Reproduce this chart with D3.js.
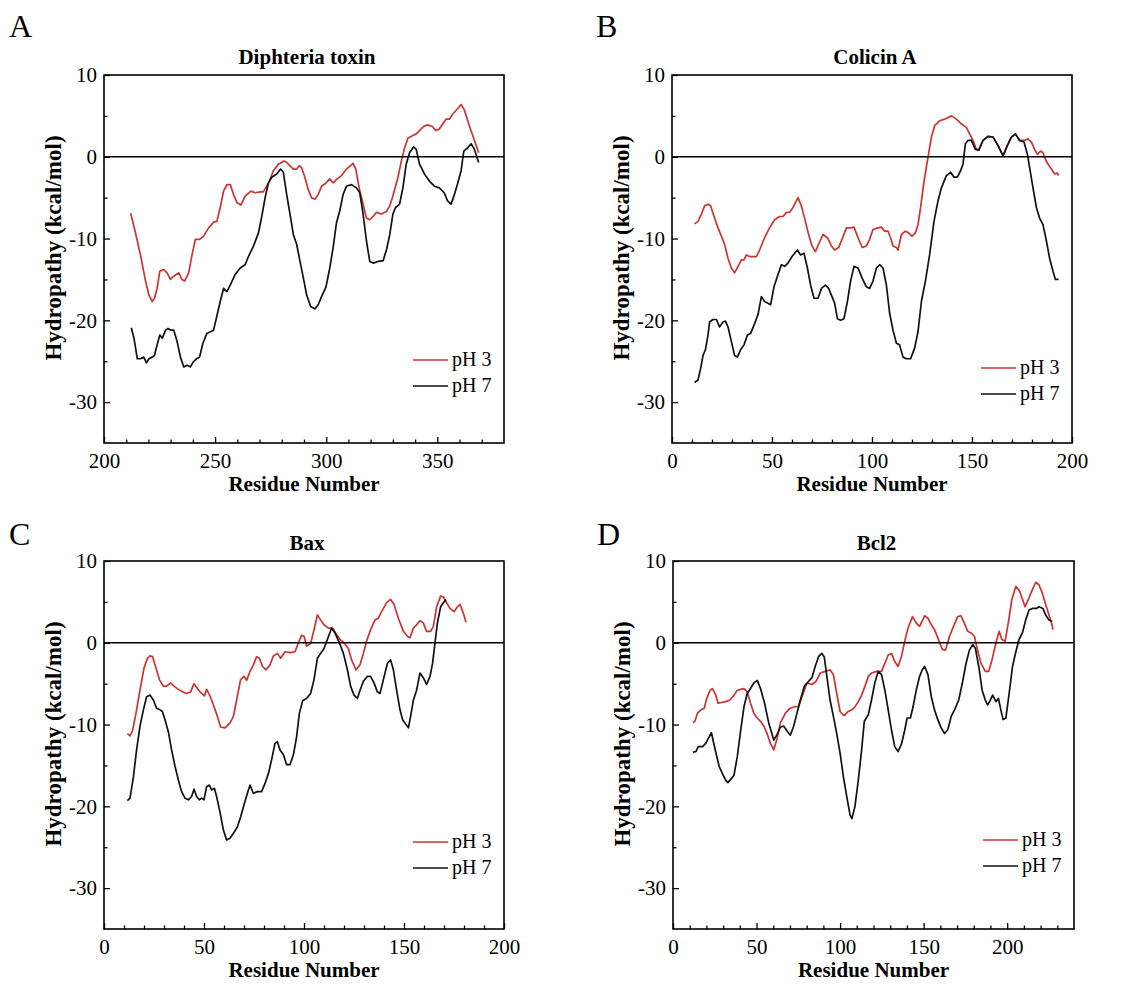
<!DOCTYPE html>
<html>
<head>
<meta charset="utf-8">
<script src="https://cdn.jsdelivr.net/npm/d3@7"></script>
<style>
body { margin: 0; background: #fff; }
svg { display: block; }
text { font-family: "Liberation Serif", "Times New Roman", serif; fill: #000; }
</style>
</head>
<body>
<div id="chart"></div>
<script>
// [residue, hydropathy kcal/mol]
const dtPH3 = [[212,-6.9],[214,-9.1],[216.4,-12.0],[218.7,-15.2],[220.2,-16.9],[221.7,-17.7],[222.7,-17.3],[223.9,-16.1],[225.1,-14.0],[226.9,-13.8],[228.4,-14.2],[229.9,-15.0],[231.4,-14.6],[233.6,-14.2],[235.1,-15.0],[236.3,-15.2],[238.1,-14.2],[239.6,-12.0],[241.1,-10.1],[243,-10.1],[244.8,-9.7],[247.1,-8.7],[249.3,-8.0],[250.8,-7.9],[252.3,-6.2],[253.8,-4.2],[255.3,-3.4],[256.8,-3.4],[258.3,-4.6],[259.8,-5.6],[261.6,-5.9],[263.5,-4.8],[266.1,-4.2],[268,-4.4],[270.3,-4.3],[271.7,-4.3],[273.2,-3.6],[274.4,-3.0],[276.2,-1.7],[278.5,-0.9],[280,-0.7],[281,-0.5],[282.2,-0.7],[283.7,-1.1],[285.2,-1.5],[286.7,-1.5],[287.9,-1.1],[288.9,-1.3],[290.4,-2.5],[291.9,-4.0],[293.4,-5.0],[294.9,-5.2],[296.4,-4.6],[297.9,-3.6],[299.9,-3.2],[301.6,-2.7],[303.1,-3.2],[304.9,-2.7],[306.9,-2.3],[309.1,-1.5],[312.1,-0.8],[313.3,-1.5],[314.8,-3.8],[316.6,-5.8],[318.1,-7.5],[319.6,-7.7],[321.1,-7.3],[322.6,-6.8],[324.8,-7.0],[327.1,-6.7],[328.6,-6.0],[330,-4.8],[332.3,-2.5],[333.8,-0.5],[335.3,1.1],[336.8,2.3],[339,2.6],[340.5,2.8],[342,3.2],[343.8,3.7],[345.7,3.9],[347.7,3.7],[349.4,3.2],[350.9,3.4],[352.4,4.0],[353.9,4.6],[355.4,4.6],[356.9,5.2],[359.2,5.9],[360.7,6.4],[362.2,5.7],[364.4,3.8],[366.7,2.0],[368.6,0.5]];
const dtPH7 = [[212.3,-20.9],[213.5,-22.2],[215,-24.7],[216.4,-24.7],[217.9,-24.5],[219.1,-25.2],[220.2,-24.7],[221.7,-24.5],[222.7,-24.3],[223.9,-23.0],[225.1,-21.8],[226.2,-22.2],[227.7,-21.2],[228.8,-21.0],[230.2,-21.2],[231.4,-21.2],[232.9,-22.6],[234.4,-24.5],[235.9,-25.7],[237.4,-25.5],[238.9,-25.7],[240.1,-25.1],[241.6,-24.7],[243,-24.5],[244.5,-22.8],[246.3,-21.6],[249.3,-21.2],[250.5,-19.8],[252.3,-17.7],[253.8,-16.1],[255.3,-16.5],[256.8,-15.7],[259,-14.4],[261.3,-13.6],[263.5,-13.2],[265,-12.2],[267.3,-10.9],[269.5,-9.3],[271,-7.3],[272.5,-5.0],[274,-3.2],[275.5,-2.5],[277.7,-2.1],[279.5,-1.5],[280.7,-1.9],[282.2,-4.6],[283.7,-7.0],[285.2,-9.5],[286.7,-10.7],[288.2,-12.8],[289.7,-14.8],[291.2,-16.9],[293,-18.3],[294.9,-18.6],[296.4,-18.1],[297.9,-17.1],[299.9,-15.9],[301.6,-13.6],[303.1,-11.1],[304.6,-8.1],[306.1,-6.6],[307.6,-4.6],[309.1,-3.6],[311.4,-3.4],[313.6,-3.8],[315.1,-4.4],[316.6,-7.0],[318.1,-10.3],[319.6,-12.8],[321.1,-13.0],[323.3,-12.8],[325.6,-12.7],[327.1,-11.4],[328.6,-9.5],[330,-7.0],[331.2,-6.2],[333,-5.8],[334.5,-3.8],[336,-0.9],[337.5,0.5],[339.3,1.2],[340.5,0.9],[342,-0.9],[344.2,-2.1],[346.5,-3.0],[348.7,-3.6],[350.9,-3.8],[353.1,-4.4],[354.6,-5.4],[356.2,-5.8],[357.7,-4.6],[359.2,-3.2],[360.7,-1.7],[361.9,0.7],[363.7,1.1],[365.2,1.6],[366.7,0.9],[368.6,-0.7]];

const colPH3 = [[11.3,-8.2],[13,-7.9],[14.7,-7.0],[16.3,-6.0],[18,-5.8],[19.3,-6.0],[21.3,-7.5],[23,-8.7],[24.7,-9.7],[26.3,-10.7],[28,-12.4],[29.7,-13.6],[31.3,-14.2],[33,-13.4],[34.7,-12.6],[36,-12.6],[37.2,-12.0],[38.8,-12.2],[40.5,-12.2],[42.2,-12.2],[43.8,-11.4],[46.3,-9.9],[48.8,-8.7],[51.3,-7.7],[53.8,-7.3],[55.5,-7.3],[57.2,-6.8],[58.8,-6.8],[60.5,-6.2],[63,-5.0],[64.7,-6.0],[66.7,-7.9],[68.3,-9.5],[70,-10.9],[71.7,-11.6],[73.3,-10.7],[75.5,-9.5],[77.7,-9.9],[79.7,-10.9],[81.3,-11.4],[83.3,-11.1],[85,-10.1],[87.2,-8.7],[89.3,-8.7],[91,-8.6],[93,-9.9],[95.2,-11.1],[97.2,-10.9],[98.8,-10.1],[100.5,-8.9],[103,-8.7],[104.7,-8.6],[106.3,-9.1],[108,-9.1],[109.3,-9.9],[110.5,-10.9],[112.2,-11.1],[113,-11.4],[114.7,-9.5],[116.7,-9.1],[118.3,-9.3],[120,-9.7],[121.7,-9.3],[123,-8.3],[124.3,-6.2],[126,-3.0],[127.7,-0.5],[129.7,2.4],[131.3,3.8],[133.8,4.4],[136.3,4.6],[139.7,5.0],[142.2,4.6],[144.7,4.0],[147.2,3.6],[148.8,2.8],[150.5,2.0],[152,1.0],[153.5,0.8],[155.5,2.0],[158,2.5],[160.5,2.4],[163,1.4],[165.5,0.1],[167.7,1.4],[169.7,2.4],[171.7,2.8],[173.8,2.0],[176.3,2.0],[178,2.2],[179.7,1.8],[181.3,0.9],[182.7,0.3],[184.3,0.7],[185.5,0.5],[186.7,-0.3],[188,-0.9],[189.7,-1.5],[191.3,-2.1],[192.7,-2.0],[193.3,-2.3]];
const colPH7 = [[11.3,-27.6],[13,-27.3],[14.3,-25.9],[15.5,-24.3],[16.7,-23.6],[18,-21.8],[18.8,-20.2],[20.5,-19.9],[22.2,-19.9],[23.8,-20.8],[25.5,-20.2],[26.7,-20.1],[28,-20.8],[29.7,-22.6],[31.3,-24.3],[32.7,-24.5],[34.3,-23.6],[36,-23.0],[37.7,-21.8],[39.3,-21.6],[41.3,-20.4],[43,-19.3],[44.7,-17.1],[46.3,-17.7],[48,-17.9],[49.3,-18.1],[51,-15.9],[53,-14.4],[54.7,-13.2],[56.3,-13.4],[58,-13.0],[60,-12.2],[62.7,-11.4],[64.3,-12.0],[66,-11.8],[67.7,-13.6],[69.3,-15.7],[71,-17.3],[73,-17.3],[74.7,-16.1],[76.7,-15.7],[78.3,-16.1],[80,-17.1],[81.3,-17.9],[82.7,-19.8],[84.3,-20.0],[86,-19.8],[87.7,-17.7],[89.3,-15.2],[91,-13.4],[93,-13.6],[95,-14.8],[97.2,-15.9],[98.8,-16.1],[100.5,-15.2],[102.2,-13.6],[103.8,-13.2],[105.5,-13.6],[107.2,-15.7],[108.8,-19.1],[110.5,-21.2],[112.2,-22.8],[113.8,-23.0],[115.5,-24.5],[117.2,-24.7],[119.3,-24.7],[121.3,-23.4],[123,-21.4],[124.7,-17.7],[126.7,-15.2],[128.8,-12.0],[131,-7.9],[133,-5.4],[134.7,-3.8],[137.2,-2.3],[139.3,-1.9],[141,-2.5],[142.7,-2.5],[144.3,-1.7],[145.5,-0.9],[146.7,1.6],[148,2.0],[149.7,2.0],[151.7,0.9],[153.3,0.8],[155.5,2.0],[158,2.5],[160.5,2.4],[163,1.4],[165.5,0.1],[167.7,1.4],[169.7,2.4],[171.7,2.8],[173.8,2.0],[176,1.8],[177.7,0.3],[178.8,-1.3],[180.5,-3.8],[182.2,-6.2],[183.8,-7.5],[185.5,-8.3],[187.2,-10.3],[188.8,-12.4],[190.5,-14.0],[191.7,-15.0],[193.3,-15.0]];

const baxPH3 = [[11.7,-11.1],[13,-11.4],[14.3,-10.7],[16,-8.6],[18,-5.8],[20,-3.1],[21.7,-1.9],[23,-1.6],[24.3,-1.7],[26,-3.1],[27.7,-4.5],[29.7,-5.3],[31.3,-5.3],[33.3,-4.9],[35,-5.3],[37.2,-5.7],[39.3,-6.0],[41.3,-6.2],[43.3,-6.0],[45,-5.0],[46.7,-5.6],[48.8,-6.2],[50.2,-6.5],[51.3,-5.7],[53,-6.5],[54.7,-7.6],[56.7,-9.0],[58.3,-10.3],[60.5,-10.4],[63,-9.8],[64.7,-9.0],[66.3,-7.0],[68.3,-4.5],[70,-4.1],[71.3,-4.6],[73,-3.5],[74.7,-2.7],[76.3,-1.7],[77.7,-1.9],[79.3,-2.9],[81,-3.3],[83,-2.7],[84.7,-1.6],[86.7,-1.3],[88.3,-1.9],[90.5,-1.1],[93,-1.2],[95.5,-1.1],[97.2,0.0],[98.8,0.9],[100,0.8],[101.3,-0.4],[103.3,-0.1],[105,1.6],[106.7,3.4],[108.3,2.8],[110,2.2],[112.2,1.8],[114.3,1.8],[116.3,1.0],[118,0.4],[120,0.0],[122.2,-0.7],[123.8,-2.1],[126,-3.3],[128,-2.7],[129.7,-1.3],[131.3,0.2],[133.3,1.6],[135.5,2.8],[137.2,3.0],[138.8,3.8],[141.3,4.9],[143.3,5.3],[145,4.7],[147.2,3.0],[149.7,1.4],[151.7,0.8],[153,0.6],[154.7,1.8],[156.3,2.2],[158,2.7],[159.7,2.4],[161.3,1.4],[163.3,1.4],[164.7,2.0],[166.3,4.4],[168.3,5.7],[169.7,5.6],[171.3,4.9],[173,4.2],[175,3.8],[176.7,4.4],[178,4.7],[179.7,3.6],[181,2.5]];
const baxPH7 = [[11.7,-19.3],[13,-19.0],[14.7,-16.4],[16.3,-13.1],[18,-10.2],[19.7,-8.2],[21.3,-6.6],[23,-6.4],[24.7,-7.0],[26.3,-8.0],[28,-8.2],[29.2,-8.4],[30.5,-9.4],[32.2,-10.9],[33.8,-13.1],[35.5,-15.1],[37.2,-16.8],[38.8,-18.2],[40.5,-19.0],[42.2,-19.2],[43.8,-18.8],[45,-17.9],[46.3,-18.8],[47.7,-19.2],[48.8,-19.0],[50,-19.2],[51.3,-17.6],[52.7,-17.4],[53.8,-18.0],[55.2,-17.8],[56.3,-18.8],[58,-20.7],[59.7,-22.9],[61.3,-24.1],[63,-23.9],[64.7,-23.3],[66.7,-22.5],[68.3,-21.3],[70,-19.8],[71.7,-18.4],[73,-17.4],[74.7,-18.4],[76.7,-18.2],[78.8,-18.2],[80.5,-17.2],[82.2,-16.0],[83.8,-14.3],[85.5,-12.3],[86.7,-12.1],[88,-13.1],[89.7,-13.7],[91.3,-14.9],[93,-14.9],[94.7,-13.7],[96.3,-11.5],[97.7,-8.6],[99.3,-7.1],[101.3,-6.8],[103.3,-6.2],[105,-4.5],[106.7,-1.9],[108.3,-1.3],[110,-0.7],[111.7,0.4],[113.8,1.8],[115.5,1.2],[117.7,0.0],[119.7,-1.3],[121.7,-3.3],[123.3,-5.3],[125,-6.4],[126.7,-6.8],[128,-5.8],[129.7,-4.7],[131.7,-4.1],[133.3,-4.1],[135,-4.9],[136.7,-6.0],[138,-6.2],[139.7,-4.5],[141.7,-2.5],[143.3,-2.1],[144.7,-3.3],[146.3,-5.8],[148,-8.2],[149.3,-9.4],[151,-10.0],[152.2,-10.4],[153.3,-9.0],[154.7,-7.0],[156.3,-5.8],[158,-3.7],[159.7,-4.3],[161.3,-5.1],[163,-4.1],[164.3,-2.5],[165.5,0.0],[166.7,2.4],[168.3,4.4],[169.7,4.9],[171,5.3]];

const bclPH3 = [[11.9,-9.8],[13.1,-9.6],[14.7,-8.6],[16.7,-8.2],[18.7,-8.0],[20.2,-6.8],[22.2,-5.8],[23.6,-5.6],[25.6,-6.4],[27,-7.4],[29,-7.3],[31.5,-7.2],[34.1,-7.0],[36.5,-6.4],[38.5,-5.8],[40.5,-5.7],[42.5,-5.6],[44.4,-6.0],[46.4,-7.4],[48.4,-8.6],[50.4,-9.2],[52.4,-9.6],[54.4,-10.2],[56.3,-11.1],[58.3,-12.3],[60.3,-13.1],[62.3,-11.7],[64.3,-9.8],[67.3,-8.6],[70.2,-8.0],[73.2,-7.8],[75.2,-7.8],[77.2,-6.6],[80.2,-4.9],[83.1,-5.1],[85.7,-4.7],[88.1,-3.7],[91.1,-3.5],[94,-3.3],[96,-3.9],[98,-6.2],[100,-8.4],[102.4,-8.9],[105,-8.4],[107,-8.2],[109,-7.8],[110.9,-7.2],[112.9,-6.4],[114.9,-5.3],[116.9,-4.1],[118.8,-3.7],[121.8,-3.5],[124.8,-3.5],[126.8,-2.5],[128.8,-1.5],[130.8,-1.3],[132.7,-2.3],[134.7,-2.9],[136.7,-1.7],[138.7,0.2],[140.7,1.8],[143.3,3.2],[145.6,2.4],[147.6,2.0],[150.6,3.3],[152.6,3.0],[154.6,2.2],[156.5,1.6],[158.5,0.6],[161.1,-0.8],[163.1,-0.9],[165.5,0.8],[167.9,2.0],[170.4,3.2],[172.4,3.3],[174.4,2.4],[176.4,1.4],[178.4,1.2],[180.4,0.8],[181.7,-0.4],[184.3,-2.5],[186.9,-3.5],[188.9,-3.5],[190.9,-2.1],[193.3,0.0],[195.2,1.4],[196.8,0.4],[198.8,0.2],[200.8,2.6],[202.8,5.3],[205.2,6.9],[207.5,6.3],[209.5,5.1],[210.7,4.4],[213.1,5.5],[215.1,6.5],[217.1,7.4],[219,7.1],[221,6.1],[223,4.7],[225,3.4],[226.6,2.4],[227.4,1.6]];
const bclPH7 = [[11.9,-13.4],[13.7,-13.3],[15.1,-12.7],[17.7,-12.7],[19.6,-12.3],[21.6,-11.5],[23,-11.0],[24.6,-12.5],[26.2,-13.9],[27.6,-15.1],[29.6,-16.0],[31.5,-16.8],[32.9,-17.1],[34.5,-16.7],[36.5,-16.2],[38.5,-13.9],[40.5,-10.7],[42.5,-7.8],[44.4,-6.2],[46.4,-5.6],[48.4,-4.9],[50.4,-4.6],[52.4,-5.6],[54.8,-7.4],[57.3,-9.8],[60.3,-11.9],[62.3,-11.2],[64.3,-10.3],[66.3,-10.2],[68.3,-10.8],[70.2,-11.3],[72.2,-10.2],[74.2,-8.6],[76.2,-7.0],[78.6,-5.3],[81.2,-4.7],[83.1,-4.3],[85.1,-2.9],[87.1,-1.7],[89.1,-1.3],[90.5,-1.7],[92.1,-4.1],[94,-7.0],[96,-9.0],[98,-11.1],[100,-13.5],[102,-16.4],[104,-18.8],[106,-21.1],[107.1,-21.5],[108.9,-20.0],[110.9,-16.8],[112.9,-13.1],[114.5,-9.6],[116.9,-8.8],[118.8,-7.0],[120.8,-4.9],[122.8,-3.5],[124.8,-3.9],[126.8,-5.8],[128.8,-8.2],[130.8,-10.7],[132.7,-12.7],[134.7,-13.3],[136.7,-12.4],[138.7,-10.7],[140.1,-9.2],[142.1,-9.2],[143.7,-7.8],[145.6,-5.8],[147.6,-4.1],[149.2,-3.3],[150.6,-2.9],[152.6,-3.9],[154.6,-6.6],[156.5,-8.2],[158.5,-9.4],[160.5,-10.4],[162.5,-11.1],[164.5,-10.6],[166.5,-9.0],[168.5,-8.2],[171,-7.0],[173.4,-4.7],[175.4,-2.5],[177.4,-0.9],[179.4,-0.2],[181,-0.7],[183,-2.9],[185,-5.8],[186.9,-7.0],[188.3,-7.6],[189.7,-7.1],[191.3,-6.4],[193.3,-7.2],[194.8,-6.8],[196.2,-8.2],[197.6,-9.4],[199.2,-9.2],[201.2,-6.2],[203.2,-2.9],[205.2,-1.1],[207.1,0.4],[209.1,1.2],[211.1,2.8],[213.1,4.0],[215.1,4.2],[217.5,4.2],[219,4.4],[221.4,4.2],[223,3.4],[225,2.8],[227,2.6]];

const panelLetters = ['A', 'B', 'C', 'D'];
const panelTitles = ['Diphteria toxin', 'Colicin A', 'Bax', 'Bcl2'];
const xDomains = [[200, 380], [0, 200], [0, 200], [0, 240]];
const yDomain = [-35, 10];
const yMajor = [10, 0, -10, -20, -30];
const yMinor = [5, -5, -15, -25];
const seriesNames = ['pH 3', 'pH 7'];
const seriesColors = ['#cc3333', '#111111'];

const panels = [
    {data: [dtPH3, dtPH7], box: {x: 104, y: 75, w: 400, h: 368}, legendY: 285, letter: [9, 37]},
    {data: [colPH3, colPH7], box: {x: 672, y: 75, w: 400, h: 368}, legendY: 293, letter: [596, 37]},
    {data: [baxPH3, baxPH7], box: {x: 104, y: 561, w: 400, h: 368}, legendY: 281, letter: [9, 545]},
    {data: [bclPH3, bclPH7], box: {x: 673, y: 561, w: 401, h: 368}, legendY: 279, letter: [597, 545]}
];

const svg = d3.select('#chart').append('svg')
    .attr('width', 1138)
    .attr('height', 988);

panels.forEach((p, i) => {
    const b = p.box;
    const x = d3.scaleLinear().domain(xDomains[i]).range([0, b.w]);
    const y = d3.scaleLinear().domain(yDomain).range([b.h, 0]);
    const xMajor = d3.range(xDomains[i][0], xDomains[i][1] + 1, 50);
    const xMinor = d3.range(xDomains[i][0] + 10, xDomains[i][1], 10).filter(v => v % 50 !== 0);

    svg.append('text')
        .attr('x', p.letter[0]).attr('y', p.letter[1])
        .attr('font-size', 32)
        .text(panelLetters[i]);

    const g = svg.append('g').attr('transform', `translate(${b.x},${b.y})`);

    g.append('text')
        .attr('x', b.w / 2 + 3).attr('y', -11)
        .attr('text-anchor', 'middle')
        .attr('font-size', 21).attr('font-weight', 'bold')
        .text(panelTitles[i]);

    // axes, ticks pointing inward
    const gx = g.append('g').attr('transform', `translate(0,${b.h})`)
        .call(d3.axisBottom(x).tickValues(xMajor).tickSizeInner(-6).tickSizeOuter(0).tickPadding(10).tickFormat(d => String(d)));
    g.append('g').attr('transform', `translate(0,${b.h})`)
        .call(d3.axisBottom(x).tickValues(xMinor).tickSizeInner(-3.5).tickSizeOuter(0).tickFormat(''));
    const gy = g.append('g')
        .call(d3.axisLeft(y).tickValues(yMajor).tickSizeInner(-6).tickSizeOuter(0).tickPadding(7).tickFormat(d => String(d)));
    g.append('g')
        .call(d3.axisLeft(y).tickValues(yMinor).tickSizeInner(-3.5).tickSizeOuter(0).tickFormat(''));
    g.selectAll('.domain').remove();
    g.selectAll('.tick line').attr('stroke', '#000').attr('stroke-width', 1.3);
    gx.selectAll('text').attr('font-size', 21).attr('font-family', '"Liberation Serif", serif');
    gy.selectAll('text').attr('font-size', 21).attr('font-family', '"Liberation Serif", serif');

    const line = d3.line().x(d => x(d[0])).y(d => y(d[1]));
    p.data.forEach((s, k) => {
        g.append('path')
            .attr('d', line(s))
            .attr('fill', 'none')
            .attr('stroke', seriesColors[k])
            .attr('stroke-width', 1.7)
            .attr('stroke-linejoin', 'round');
    });

    g.append('line')
        .attr('x1', 0).attr('x2', b.w)
        .attr('y1', y(0)).attr('y2', y(0))
        .attr('stroke', '#000').attr('stroke-width', 1.6);

    g.append('rect')
        .attr('width', b.w).attr('height', b.h)
        .attr('fill', 'none').attr('stroke', '#000').attr('stroke-width', 1.6);

    g.append('text')
        .attr('transform', `translate(-51,${b.h / 2 - 11}) rotate(-90)`)
        .attr('text-anchor', 'middle').attr('dy', '0.35em')
        .attr('font-size', 23).attr('font-weight', 'bold')
        .text('Hydropathy (kcal/mol)');

    g.append('text')
        .attr('x', b.w / 2).attr('y', b.h + 48)
        .attr('text-anchor', 'middle')
        .attr('font-size', 21).attr('font-weight', 'bold')
        .text('Residue Number');

    const leg = g.append('g').attr('transform', `translate(${b.w - 91},${p.legendY})`);
    seriesNames.forEach((name, k) => {
        leg.append('line')
            .attr('x1', 0).attr('x2', 35)
            .attr('y1', k * 26).attr('y2', k * 26)
            .attr('stroke', seriesColors[k]).attr('stroke-width', 1.7);
        leg.append('text')
            .attr('x', 39).attr('y', k * 26 + 6)
            .attr('font-size', 20)
            .text(name);
    });
});
</script>
</body>
</html>
